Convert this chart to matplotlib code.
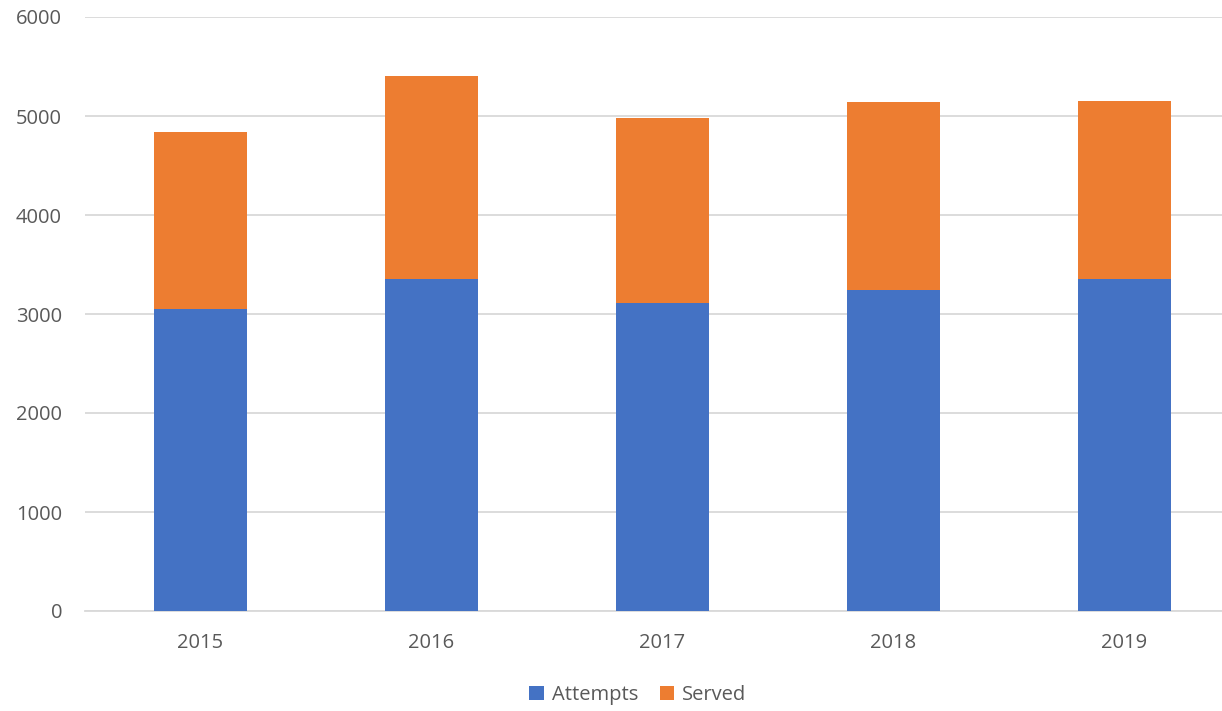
import numpy as np
import matplotlib.pyplot as plt

years = ["2015", "2016", "2017", "2018", "2019"]
attempts = [3055, 3350, 3110, 3240, 3350]
served = [1785, 2055, 1865, 1905, 1800]

plt.rcParams['font.family'] = ['Open Sans', 'DejaVu Sans']

fig = plt.figure(figsize=(12.22, 7.11), dpi=100)
# axes run past the right edge, like the cropped original
ax = fig.add_axes([85 / 1222, 1 - 611 / 711, 1155 / 1222, 594 / 711])

x = np.arange(len(years))
ax.bar(x, attempts, width=0.4, color="#4472C4", label="Attempts", zorder=3)
ax.bar(x, served, width=0.4, bottom=attempts, color="#ED7D31", label="Served", zorder=3)

ax.set_xlim(-0.5, 4.5)
ax.set_ylim(0, 6000)
ax.set_yticks(range(0, 6001, 1000))
ax.set_xticks(x)
ax.set_xticklabels(years)
ax.yaxis.grid(True, color="#D9D9D9", linewidth=1.3, zorder=0)
for s in ["top", "right", "left"]:
    ax.spines[s].set_visible(False)
ax.spines["bottom"].set_color("#D9D9D9")
ax.spines["bottom"].set_linewidth(1.3)
ax.tick_params(axis="both", length=0, labelsize=14.5, labelcolor="#595959")
ax.tick_params(axis="x", pad=16)
ax.tick_params(axis="y", pad=16.5)

fig.legend(loc="center", bbox_to_anchor=(638 / 1222, 1 - 695 / 711), ncol=2,
           frameon=False, fontsize=14.5, labelcolor="#595959",
           handlelength=0.7, handleheight=0.7, handletextpad=0.4, columnspacing=1.1)

fig.savefig("out.png", dpi=100)
